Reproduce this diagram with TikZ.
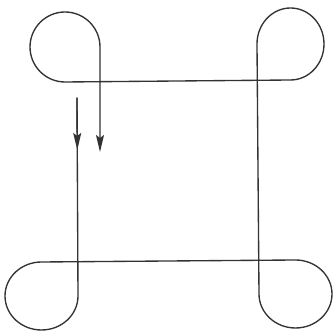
\documentclass[tikz,border=0pt]{standalone}
\usetikzlibrary{arrows.meta}
\begin{document}
\begin{tikzpicture}[x=1pt,y=1pt,
  strand/.style={line width=1.35pt,draw=black!80,line join=round,line cap=round},
  tip/.style={-{Stealth[length=17pt,width=8pt,inset=3pt]}}]
\useasboundingbox (0,0) rectangle (333,331);
% named points
\coordinate (S) at (77,233);
\coordinate (Lmid) at (77.3,181);
\coordinate (BLr) at (78,35);
\coordinate (BRt) at (295.5,71);
\coordinate (TRl) at (257,287);
\coordinate (TLb) at (65,249);
\coordinate (E) at (100,179);
% the strand with four loops
\draw[strand,tip] (S) -- (BLr)
  arc[start angle=0,end angle=-270,x radius=36.5,y radius=34]
  -- (BRt)
  arc[start angle=90,end angle=-180,x radius=36.5,y radius=34]
  -- (TRl)
  arc[start angle=180,end angle=-90,x radius=33.5,y radius=36]
  -- (TLb)
  arc[start angle=270,end angle=0,radius=35]
  -- (E);
% arrow in the middle of the left strand
\draw[strand,tip] (S) -- (Lmid);
\end{tikzpicture}
\end{document}
